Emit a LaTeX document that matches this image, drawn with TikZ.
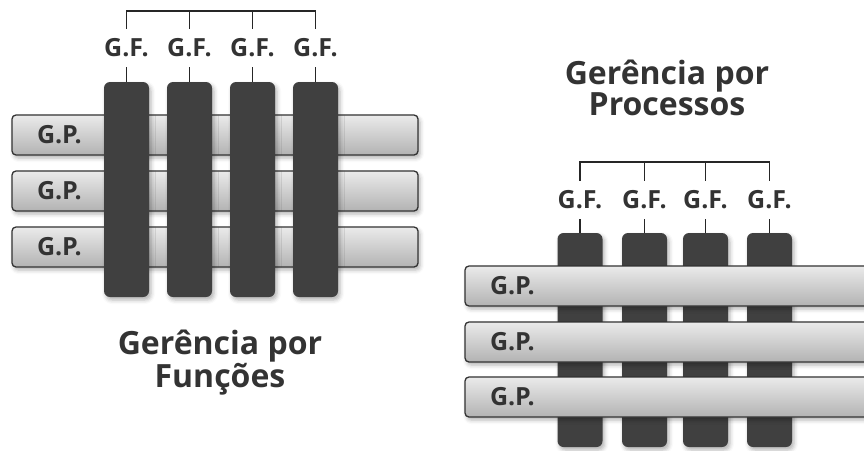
\documentclass[tikz,border=0pt]{standalone}
\usepackage{fontspec}
\setmainfont{Open Sans}
\usetikzlibrary{shadows.blur}
\tikzset{
  sombra/.style={blur shadow={shadow xshift=2pt, shadow yshift=-3pt, shadow blur radius=4pt, shadow opacity=30}},
  gp/.style={draw=black!80, line width=1.3pt, rounded corners=4pt, top color=black!8, bottom color=black!30,
    minimum height=40pt, inner xsep=25pt, align=left, font=\bfseries\fontsize{25}{25}\selectfont, text=black!80, sombra},
  gf/.style={fill=black!75, rounded corners=6pt, minimum width=45pt, sombra},
  sigla/.style={font=\bfseries\fontsize{25}{25}\selectfont, text=black!80, inner xsep=0pt, inner ysep=10pt},
  titulo/.style={font=\bfseries\fontsize{32}{29}\selectfont, text=black!80, align=center, inner sep=0pt},
  chave/.style={line width=1.4pt, black!85}
}
\begin{document}
\begin{tikzpicture}[x=1pt, y=-1pt]
    \useasboundingbox (0,0) rectangle (864,450);
    % Gerência por Funções: processos por baixo
    \node[gp, text width=356pt] (pa) at (215,135) {G.P.};
    \node[gp, text width=356pt] (pb) at (215,191) {G.P.};
    \node[gp, text width=356pt] (pc) at (215,247) {G.P.};
    % Funções por cima
    \node[gf, minimum height=215pt] (fa) at (126.5,189.5) {};
    \node[gf, minimum height=215pt] (fb) at (189.5,189.5) {};
    \node[gf, minimum height=215pt] (fc) at (252.5,189.5) {};
    \node[gf, minimum height=215pt] (fd) at (315.5,189.5) {};
    % Siglas
    \node[sigla] (la) at (126.5,48) {G.F.};
    \node[sigla] (lb) at (189.5,48) {G.F.};
    \node[sigla] (lc) at (252.5,48) {G.F.};
    \node[sigla] (ld) at (315.5,48) {G.F.};
    \draw[chave] (fa.north) -- (la.south);
    \draw[chave] (fb.north) -- (lb.south);
    \draw[chave] (fc.north) -- (lc.south);
    \draw[chave] (fd.north) -- (ld.south);
    % Chave
    \coordinate (topo) at (0,11);
    \draw[chave] (la.north) |- (topo -| ld.north) -- (ld.north);
    \draw[chave] (lb.north) -- (lb.north |- topo);
    \draw[chave] (lc.north) -- (lc.north |- topo);
    % Título
    \node[titulo] (tf) at (220,363) {Gerência por\\Funções};

    % Gerência por Processos: funções por baixo
    \node[gf, minimum height=214pt] (ga) at (580,340) {};
    \node[gf, minimum height=214pt] (gb) at (644.5,340) {};
    \node[gf, minimum height=214pt] (gc) at (705.5,340) {};
    \node[gf, minimum height=214pt] (gd) at (769.5,340) {};
    % Processos por cima
    \node[gp, text width=365pt] (qa) at (672.5,286) {G.P.};
    \node[gp, text width=365pt] (qb) at (672.5,342) {G.P.};
    \node[gp, text width=365pt] (qc) at (672.5,397) {G.P.};
    % Siglas
    \node[sigla] (ma) at (580,200) {G.F.};
    \node[sigla] (mb) at (644.5,200) {G.F.};
    \node[sigla] (mc) at (705.5,200) {G.F.};
    \node[sigla] (md) at (769.5,200) {G.F.};
    \draw[chave] (ga.north) -- (ma.south);
    \draw[chave] (gb.north) -- (mb.south);
    \draw[chave] (gc.north) -- (mc.south);
    \draw[chave] (gd.north) -- (md.south);
    % Chave
    \coordinate (cimo) at (0,162);
    \draw[chave] (ma.north) |- (cimo -| md.north) -- (md.north);
    \draw[chave] (mb.north) -- (mb.north |- cimo);
    \draw[chave] (mc.north) -- (mc.north |- cimo);
    % Título
    \node[titulo] (tp) at (667,88) {Gerência por\\Processos};
\end{tikzpicture}
\end{document}
